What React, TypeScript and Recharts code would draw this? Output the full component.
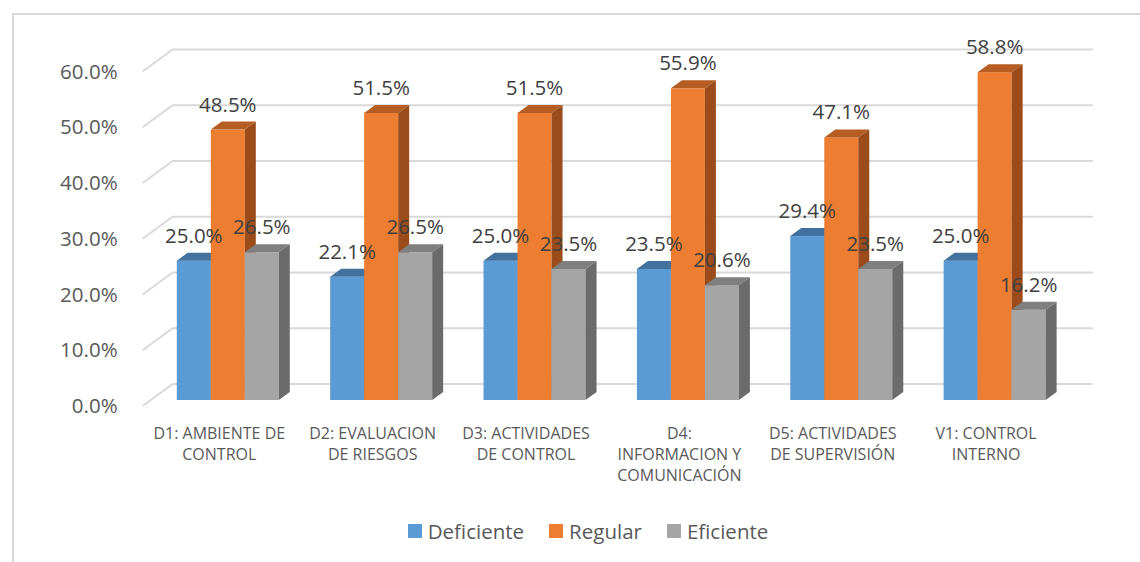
import { BarChart, Bar, XAxis, YAxis, CartesianGrid, LabelList, Legend } from "recharts";

const categoryLines = [
  ["D1: AMBIENTE DE", "CONTROL"],
  ["D2: EVALUACION", "DE RIESGOS"],
  ["D3: ACTIVIDADES", "DE CONTROL"],
  ["D4:", "INFORMACION Y", "COMUNICACIÓN"],
  ["D5: ACTIVIDADES", "DE SUPERVISIÓN"],
  ["V1: CONTROL", "INTERNO"],
];
const categories = categoryLines.map((l) => l.join(" "));

const deficiente = [25.0, 22.1, 25.0, 23.5, 29.4, 25.0];
const regular = [48.5, 51.5, 51.5, 55.9, 47.1, 58.8];
const eficiente = [26.5, 26.5, 23.5, 20.6, 23.5, 16.2];

const yTicks = [0, 10, 20, 30, 40, 50, 60];

const series = [
  { key: "deficiente", label: "Deficiente", front: "#5B9BD5", top: "#41719C", side: "#3A6790" },
  { key: "regular", label: "Regular", front: "#ED7D31", top: "#B55D22", side: "#9B4C1A" },
  { key: "eficiente", label: "Eficiente", front: "#A5A5A5", top: "#7F7F7F", side: "#6B6B6B" },
];

const data = categories.map((name, i) => ({
  name,
  deficiente: deficiente[i],
  regular: regular[i],
  eficiente: eficiente[i],
}));

const FONT = "'Open Sans', 'Noto Sans', sans-serif";
// bar depth (oblique projection)
const DX = 11;
const DY = 8;
// front plane of floor relative to bar front
const FX = -8.2;
const FY = 6;
// back wall relative to bar front
const BX = 21.8;
const BY = -16;

function makeShape(front: string, top: string, side: string) {
  return (props: any) => {
    const { x, y, width, height } = props;
    if (width == null || height == null) return <g />;
    return (
      <g>
        <rect x={x} y={y} width={width} height={height} fill={front} />
        <polygon
          points={`${x},${y} ${x + DX},${y - DY} ${x + width + DX},${y - DY} ${x + width},${y}`}
          fill={top}
        />
        <polygon
          points={`${x + width},${y} ${x + width + DX},${y - DY} ${x + width + DX},${y + height - DY} ${x + width},${y + height}`}
          fill={side}
        />
      </g>
    );
  };
}

function GridLine(props: any) {
  const { x1, x2, y1 } = props;
  return (
    <path
      key={props.key ?? `g-${y1}`}
      d={`M${x1 + FX},${y1 + FY} L${x1 + BX},${y1 + BY} L${x2 + BX},${y1 + BY}`}
      fill="none"
      stroke="#D9D9D9"
      strokeWidth={2}
    />
  );
}

function YTick(props: any) {
  const { x, y, payload } = props;
  return (
    <text x={x + FX} y={y + FY} dy="0.35em" textAnchor="end" fill="#595959" fontSize={20.5} fontFamily={FONT}>
      {`${Number(payload.value).toFixed(1)}%`}
    </text>
  );
}

function XTick(props: any) {
  const { x, y, payload } = props;
  const idx = categories.indexOf(payload.value);
  const lines = idx >= 0 ? categoryLines[idx] : [String(payload.value)];
  return (
    <text x={x + FX} y={y + 38.5} textAnchor="middle" fill="#595959" fontSize={16} fontFamily={FONT}>
      {lines.map((l, i) => (
        <tspan key={i} x={x + FX} dy={i === 0 ? 0 : 21.3}>
          {l}
        </tspan>
      ))}
    </text>
  );
}

function ValueLabel(props: any) {
  const { x, y, width, value } = props;
  if (value == null) return null;
  return (
    <text x={x + width / 2} y={y - 18} textAnchor="middle" fill="#404040" fontSize={20.5} fontFamily={FONT}>
      {`${Number(value).toFixed(1)}%`}
    </text>
  );
}

function LegendContent() {
  return (
    <div style={{ display: "flex", justifyContent: "center", alignItems: "center", fontFamily: FONT }}>
      {series.map((s, i) => (
        <div key={s.key} style={{ display: "flex", alignItems: "center", marginLeft: i === 0 ? 0 : 25 }}>
          <span style={{ width: 14, height: 14, background: s.front, display: "inline-block", marginRight: 6 }} />
          <span style={{ fontSize: 20.5, color: "#595959", lineHeight: "28px" }}>{s.label}</span>
        </div>
      ))}
    </div>
  );
}

export default function App() {
  return (
    <div style={{ position: "absolute", left: 0, top: 0, width: 1140, height: 562, background: "#fff", overflow: "hidden" }}>
      <div
        style={{
          position: "absolute",
          left: 12,
          top: 13,
          width: 1200,
          height: 600,
          borderLeft: "2px solid #D9D9D9",
          borderTop: "2px solid #D9D9D9",
          boxSizing: "border-box",
        }}
      />
      <div style={{ position: "absolute", left: 0, top: 0 }}>
        <BarChart
          width={1140}
          height={562}
          data={data}
          margin={{ top: 65.5, right: 69, bottom: 102, left: 50.8 }}
          barSize={34}
          barGap={0}
        >
          <CartesianGrid vertical={false} horizontal={(p: any) => <GridLine {...p} />} />
          <XAxis
            dataKey="name"
            height={60}
            axisLine={false}
            tickLine={false}
            tickSize={0}
            tickMargin={0}
            interval={0}
            tick={<XTick />}
          />
          <XAxis xAxisId="lbl" dataKey="name" hide />
          <YAxis
            width={100}
            domain={[0, 60]}
            ticks={yTicks}
            axisLine={false}
            tickLine={false}
            tickSize={0}
            tickMargin={25}
            tick={<YTick />}
          />
          {series.map((s) => (
            <Bar key={s.key} dataKey={s.key} fill={s.front} shape={makeShape(s.front, s.top, s.side)} isAnimationActive={false} />
          ))}
          {series.map((s) => (
            <Bar
              key={`${s.key}-lbl`}
              xAxisId="lbl"
              dataKey={s.key}
              fill="none"
              shape={() => <g />}
              legendType="none"
              isAnimationActive={false}
            >
              <LabelList dataKey={s.key} content={<ValueLabel />} />
            </Bar>
          ))}
          <Legend
            verticalAlign="middle"
            align="center"
            content={<LegendContent />}
            wrapperStyle={{ top: 517, left: 0, width: 1176 }}
          />
        </BarChart>
      </div>
    </div>
  );
}
